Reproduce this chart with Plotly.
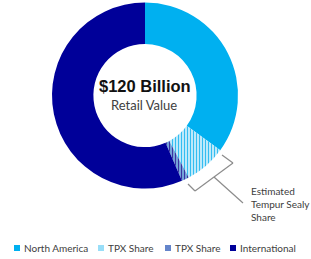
import plotly.graph_objects as go

categories = ["North America", "TPX Share", "TPX Share", "International"]
values = [35.0, 7.2, 1.3, 56.5]
center_title = "$120 Billion"
center_sub = "Retail Value"
callout = ["Estimated", "Tempur Sealy", "Share"]

W, H = 311, 259
def px(x):
    return x / W
def py(y):
    return 1 - y / H

colors = ["#00B0F0", "#FFFFFF", "#8FD8F5", "#000099"]
pat_shapes = ["", "|", "|", ""]
pat_fg = ["#00B0F0", "#33BDF1", "#3A33A0", "#000099"]

fig = go.Figure()
fig.add_trace(go.Pie(
    labels=[f"{c} {i}" for i, c in enumerate(categories)],
    values=values,
    sort=False,
    direction="clockwise",
    rotation=0,
    hole=0.555,
    textinfo="none",
    hoverinfo="skip",
    showlegend=False,
    marker=dict(
        colors=colors,
        line=dict(width=0),
        pattern=dict(shape=pat_shapes, fgcolor=pat_fg, bgcolor=colors,
                     size=3, solidity=0.55, fillmode="replace"),
    ),
    domain=dict(x=[px(52), px(238)], y=[py(189), py(2)]),
))

shapes = []
# bracket
gray = "#8C8C8C"
for (x0, y0, x1, y1) in [(222, 155, 233, 163), (233, 163, 195, 191), (188, 184, 195, 191), (214, 177, 243, 203)]:
    shapes.append(dict(type="line", xref="paper", yref="paper",
                       x0=px(x0), y0=py(y0), x1=px(x1), y1=py(y1),
                       line=dict(color=gray, width=1.2)))

def ann(text, x, y, size, color, family, xanchor="center"):
    return dict(text=text, x=px(x), y=py(y), xref="paper", yref="paper",
                xanchor=xanchor, yanchor="middle", showarrow=False,
                font=dict(family=family, size=size, color=color))

annotations = [
    ann(f"<b>{center_title}</b>", 145, 86, 16.5, "#111111", "Liberation Sans, Arial"),
    ann(center_sub, 144, 105, 13, "#404040", "Lato, Open Sans"),
]
for i, line in enumerate(callout):
    annotations.append(ann(line, 249, 191 + 13 * i, 10, "#404040", "Lato, Open Sans", "left"))

# manual legend
leg_x = [14, 98, 165, 230]
leg_y = 248
for i, c in enumerate(categories):
    x0 = leg_x[i]
    shapes.append(dict(type="rect", xref="paper", yref="paper",
                       x0=px(x0), x1=px(x0 + 6), y0=py(leg_y + 3), y1=py(leg_y - 3),
                       fillcolor=colors[i], line=dict(width=0)))
    if pat_shapes[i] != "":
        for k in range(3):
            xx = x0 + 1 + 2 * k
            shapes.append(dict(type="line", xref="paper", yref="paper",
                               x0=px(xx), x1=px(xx), y0=py(leg_y + 3), y1=py(leg_y - 3),
                               line=dict(color=pat_fg[i], width=1)))
    annotations.append(ann(c, x0 + 7.5, leg_y, 10, "#404040", "Lato, Open Sans", "left"))

fig.update_layout(
    width=W, height=H,
    margin=dict(l=0, r=0, t=0, b=0),
    paper_bgcolor="white",
    plot_bgcolor="white",
    showlegend=False,
    shapes=shapes,
    annotations=annotations,
)
fig.write_html("out.html", config={"displayModeBar": False},
               post_script="document.body.style.margin='0';document.body.style.padding='0';")
